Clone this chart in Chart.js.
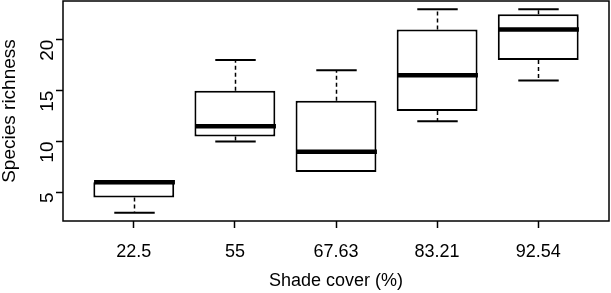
<!DOCTYPE html>
<html lang="en">
<head>
  <meta charset="UTF-8">
  <title>Species richness by shade cover</title>
  <style>
    html, body { margin: 0; padding: 0; background: #fff; }
    #wrap { width: 611px; height: 293px; }
  </style>
</head>
<body>
  <div id="wrap"><canvas id="boxChart" width="611" height="293"></canvas></div>

  <script src="https://cdn.jsdelivr.net/npm/chart.js"></script>
  <script>
    // values
    const categories = ['22.5', '55', '67.63', '83.21', '92.54'];
    const whiskerLow = [3, 10, 7, 12, 16];
    const q1 = [4.5, 10.5, 7, 13, 18];
    const medians = [6, 11.5, 9, 16.5, 21];
    const q3 = [6, 15, 14, 21, 22.5];
    const whiskerHigh = [6, 18, 17, 23, 23];
    const yTicks = [5, 10, 15, 20];

    const FONT = "'Liberation Sans', Arial, sans-serif";

    // medians, whiskers, caps and the frame
    const boxExtras = {
      id: 'boxExtras',
      afterDatasetsDraw(chart) {
        const { ctx, chartArea, scales: { x, y } } = chart;
        const unit = x.getPixelForValue(2) - x.getPixelForValue(1);
        ctx.save();
        ctx.strokeStyle = '#000';
        ctx.lineCap = 'butt';
        categories.forEach((c, i) => {
          const cx = Math.round(x.getPixelForValue(i + 1)) + 0.5;
          const cap = unit * 0.2;

          // whiskers (dashed)
          ctx.lineWidth = 1.5;
          ctx.setLineDash([4, 3]);
          if (whiskerHigh[i] > q3[i]) {
            ctx.beginPath();
            ctx.moveTo(cx, y.getPixelForValue(q3[i]));
            ctx.lineTo(cx, y.getPixelForValue(whiskerHigh[i]));
            ctx.stroke();
          }
          if (whiskerLow[i] < q1[i]) {
            ctx.beginPath();
            ctx.moveTo(cx, y.getPixelForValue(q1[i]));
            ctx.lineTo(cx, y.getPixelForValue(whiskerLow[i]));
            ctx.stroke();
          }

          // caps (only where the whisker leaves the box)
          ctx.setLineDash([]);
          ctx.lineWidth = 2;
          [[whiskerHigh[i], q3[i]], [whiskerLow[i], q1[i]]].forEach(([v, edge]) => {
            if (v === edge) return;
            const py = y.getPixelForValue(v);
            ctx.beginPath();
            ctx.moveTo(cx - cap, py);
            ctx.lineTo(cx + cap, py);
            ctx.stroke();
          });

          // median
          ctx.lineWidth = 4.5;
          const my = y.getPixelForValue(medians[i]);
          ctx.beginPath();
          ctx.moveTo(cx - unit * 0.4, my);
          ctx.lineTo(cx + unit * 0.4, my);
          ctx.stroke();
        });

        // frame
        ctx.lineWidth = 1.5;
        ctx.strokeRect(chartArea.left, chartArea.top,
          chartArea.right - chartArea.left, chartArea.bottom - chartArea.top);
        ctx.restore();
      }
    };

    new Chart(document.getElementById('boxChart'), {
      type: 'bar',
      data: {
        datasets: [{
          label: 'Species richness',
          data: categories.map((c, i) => ({ x: i + 1, y: [q1[i], q3[i]] })),
          backgroundColor: '#fff',
          borderColor: '#000',
          borderWidth: 2,
          borderSkipped: false,
          categoryPercentage: 1,
          barPercentage: 0.8
        }]
      },
      options: {
        responsive: false,
        animation: false,
        layout: { padding: { top: 1, right: 2, left: 0, bottom: 0 } },
        plugins: {
          legend: { display: false },
          tooltip: { enabled: false }
        },
        scales: {
          x: {
            type: 'linear',
            min: 0.3,
            max: 5.7,
            offset: false,
            afterBuildTicks: s => { s.ticks = categories.map((c, i) => ({ value: i + 1 })); },
            afterFit: s => { s.height = 72; s.paddingLeft = 0; s.paddingRight = 0; },
            border: { display: false },
            grid: { offset: false, drawOnChartArea: false, tickLength: 7, tickColor: '#000', tickWidth: 1.5 },
            ticks: {
              callback: v => categories[v - 1],
              color: '#000',
              padding: 13,
              maxRotation: 0,
              font: { family: FONT, size: 18 }
            },
            title: {
              display: true,
              text: 'Shade cover (%)',
              color: '#000',
              font: { family: FONT, size: 18 },
              padding: { top: 0, bottom: 1 }
            }
          },
          y: {
            min: 2.2,
            max: 23.8,
            afterBuildTicks: s => { s.ticks = yTicks.map(v => ({ value: v })); },
            afterFit: s => { s.width = 63; s.paddingTop = 0; s.paddingBottom = 0; },
            border: { display: false },
            grid: { drawOnChartArea: false, tickLength: 7, tickColor: '#000', tickWidth: 1.5 },
            ticks: {
              color: '#000',
              padding: 8,
              minRotation: 90,
              maxRotation: 90,
              font: { family: FONT, size: 19 }
            },
            title: {
              display: true,
              text: 'Species richness',
              color: '#000',
              font: { family: FONT, size: 19, lineHeight: 1 },
              padding: 0
            }
          }
        }
      },
      plugins: [boxExtras]
    });
  </script>
</body>
</html>
